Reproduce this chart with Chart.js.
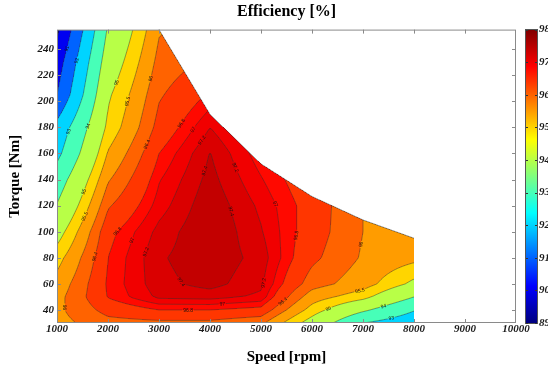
<!DOCTYPE html>
<html>
<head>
<meta charset="utf-8">
<title>Efficiency map</title>
<script src="https://cdn.jsdelivr.net/npm/chart.js@4.4.0/dist/chart.umd.min.js"></script>
<style>
  html, body { margin: 0; padding: 0; background: #fff; }
</style>
</head>
<body>
<canvas id="map" width="548" height="368"></canvas>
<script>
// measured grid: one efficiency column per speed, rows follow `torques`
const speeds = [1000, 2000, 3000, 4000, 5000, 6000, 7000, 8000];
const torques = [30, 40, 50, 60, 80, 100, 120, 140, 160, 180, 205, 230, 255];
const maxTorque = [255, 255, 255, 190, 152, 127, 109, 95];

const eff1000 = [95.85, 95.9, 95.85, 95.7, 95.3, 94.7, 94.05, 93.5, 92.75, 92.3, 91.0, 90.5, 89.8];
const eff2000 = [96.25, 96.55, 96.82, 96.85, 96.8, 96.7, 96.35, 95.95, 95.55, 95.15, 94.9, 94.5, 94.1];
const eff3000 = [96.3, 96.8, 97.25, 97.33, 97.37, 97.27, 97.1, 96.98, 96.8, 96.55, 96.35, 96.15, 95.95];
const eff4000 = [96.3, 96.8, 97.28, 97.48, 97.55, 97.6, 97.56, 97.48, 97.41, 97.2, 96.85, 96.5, 96.3];
const eff5000 = [96.1, 96.7, 97.15, 97.25, 97.32, 97.22, 97.15, 97.02, 96.88, 96.75, 96.6, null, null];
const eff6000 = [94.7, 95.3, 95.75, 96.2, 96.5, 96.62, 96.65, 96.55, 96.45, null, null, null, null];
const eff7000 = [93.0, 94.15, 95.2, 95.75, 95.95, 96.0, 96.0, 95.95, null, null, null, null, null];
const eff8000 = [92.4, 93.05, 94.0, 94.85, 95.65, 95.85, 95.8, null, null, null, null, null, null];

const levels = [90, 91, 92, 93, 94, 95, 95.5, 96, 96.4, 96.8, 97, 97.2, 97.4];
const xTicks = [1000, 2000, 3000, 4000, 5000, 6000, 7000, 8000, 9000, 10000];
const yTicks = [40, 60, 80, 100, 120, 140, 160, 180, 200, 220, 240];
const barTicks = [89, 90, 91, 92, 93, 94, 95, 96, 97, 98];

// contour labels: [level, speed, torque] (snapped onto the line when drawn)
const contourLabels = [
  [90, 1080, 247], [91, 1240, 240], [92, 1410, 231], [93, 1290, 176], [94, 1690, 180],
  [95, 2060, 216], [95.5, 2180, 202], [96, 2770, 218], [96.4, 2650, 169],
  [96.8, 3400, 184], [97, 3570, 181], [97.2, 3770, 172], [97.4, 3790, 148],
  [97.2, 4540, 150], [97.4, 4540, 117], [97, 5260, 121], [96.8, 5700, 97],
  [96, 6870, 91], [95.5, 6950, 53], [95, 6330, 40], [94, 7400, 43], [93, 7550, 35],
  [96.4, 5420, 47], [97, 4240, 46], [96.8, 3570, 40], [97.4, 3450, 62], [97.2, 5010, 61],
  [96.4, 1730, 81], [96.8, 2200, 100], [97, 2420, 94], [97.2, 2710, 85],
  [95, 1500, 131], [95.5, 1470, 113], [96, 1170, 42]
];

const effColumns = [eff1000, eff2000, eff3000, eff4000, eff5000, eff6000, eff7000, eff8000];
const serif = '"Liberation Serif", "Times New Roman", serif';

function cellIndex(arr, v) {
  let i = 0;
  while (i < arr.length - 2 && v > arr[i + 1]) i++;
  return i;
}

function torqueLimit(n) {
  const i = cellIndex(speeds, n);
  const s = (n - speeds[i]) / (speeds[i + 1] - speeds[i]);
  return maxTorque[i] + s * (maxTorque[i + 1] - maxTorque[i]);
}

function inside(n, t) {
  return n >= speeds[0] && n <= speeds[speeds.length - 1] && t >= torques[0] && t <= torqueLimit(n);
}

// bilinear value inside a grid cell, missing corners are left out
function effAt(n, t) {
  const i = cellIndex(speeds, n), j = cellIndex(torques, t);
  const s = Math.min(Math.max((n - speeds[i]) / (speeds[i + 1] - speeds[i]), 0), 1);
  const u = Math.min(Math.max((t - torques[j]) / (torques[j + 1] - torques[j]), 0), 1);
  const c = [
    [effColumns[i][j], (1 - s) * (1 - u)], [effColumns[i + 1][j], s * (1 - u)],
    [effColumns[i][j + 1], (1 - s) * u], [effColumns[i + 1][j + 1], s * u]
  ];
  let sum = 0, w = 0;
  for (const [v, k] of c) if (v != null) { sum += v * k; w += k; }
  return w > 1e-9 ? sum / w : NaN;
}

function jet(t) {
  const cl = v => Math.min(Math.max(v, 0), 1);
  return [cl(1.5 - Math.abs(4 * t - 3)) * 255, cl(1.5 - Math.abs(4 * t - 2)) * 255, cl(1.5 - Math.abs(4 * t - 1)) * 255];
}
const cMin = barTicks[0], cMax = barTicks[barTicks.length - 1];
const bandColors = [jet(0)].concat(levels.map(l => jet((l - cMin) / (cMax - cMin))));
function bandColor(v) {
  let k = 0;
  while (k < levels.length && v >= levels[k]) k++;
  return bandColors[k];
}

const effMapPlugin = {
  id: 'effMap',
  beforeDatasetsDraw(chart) {
    const { ctx, chartArea: a, scales: { x, y } } = chart;
    const L = Math.round(a.left), T = Math.round(a.top);
    const W = Math.round(a.right) - L, H = Math.round(a.bottom) - T;

    // filled bands
    const img = ctx.createImageData(W, H);
    for (let r = 0; r < H; r++) {
      const t = y.getValueForPixel(T + r + 0.5);
      for (let c = 0; c < W; c++) {
        const n = x.getValueForPixel(L + c + 0.5);
        let col = [255, 255, 255];
        if (inside(n, t)) {
          const v = effAt(n, t);
          if (!isNaN(v)) col = bandColor(v);
        }
        const k = (r * W + c) * 4;
        img.data[k] = col[0]; img.data[k + 1] = col[1]; img.data[k + 2] = col[2]; img.data[k + 3] = 255;
      }
    }
    ctx.putImageData(img, L, T);

    const F = (px, py) => effAt(x.getValueForPixel(px), y.getValueForPixel(py));

    // domain outline in pixels
    const outline = [[speeds[0], torques[0]]];
    speeds.forEach((n, i) => outline.push([n, maxTorque[i]]));
    outline.push([speeds[speeds.length - 1], torques[0]]);
    const outlinePx = outline.map(([n, t]) => [x.getPixelForValue(n), y.getPixelForValue(t)]);

    // place labels on their contour
    ctx.font = '5px "Liberation Sans", Arial, sans-serif';
    const placed = [];
    for (const [lev, n0, t0] of contourLabels) {
      let px = x.getPixelForValue(n0), py = y.getPixelForValue(t0);
      const ox = px, oy = py;
      let gx = 0, gy = 0;
      for (let it = 0; it < 15; it++) {
        const f = F(px, py);
        gx = (F(px + 1, py) - F(px - 1, py)) / 2;
        gy = (F(px, py + 1) - F(px, py - 1)) / 2;
        const g2 = gx * gx + gy * gy;
        if (!(g2 > 1e-10) || isNaN(f)) break;
        let dx = (lev - f) / g2 * gx, dy = (lev - f) / g2 * gy;
        const len = Math.hypot(dx, dy);
        if (len > 5) { dx *= 5 / len; dy *= 5 / len; }
        px += dx; py += dy;
      }
      const fv = F(px, py);
      if (isNaN(fv) || Math.abs(fv - lev) > 0.01) continue;
      if (Math.hypot(px - ox, py - oy) > 30) continue;
      if (!inside(x.getValueForPixel(px), y.getValueForPixel(py))) continue;
      let ang = Math.atan2(-gx, gy);
      if (ang > Math.PI / 2) ang -= Math.PI;
      if (ang < -Math.PI / 2) ang += Math.PI;
      const text = String(lev);
      placed.push({ px, py, ang, text, hw: ctx.measureText(text).width / 2 + 1, hh: 2.6 });
    }

    // contour lines, with gaps where labels sit
    ctx.save();
    ctx.beginPath();
    outlinePx.forEach(([px, py], i) => i ? ctx.lineTo(px, py) : ctx.moveTo(px, py));
    ctx.closePath();
    for (const p of placed) {
      const cs = Math.cos(p.ang), sn = Math.sin(p.ang);
      const pts = [[-p.hw, -p.hh], [p.hw, -p.hh], [p.hw, p.hh], [-p.hw, p.hh]]
        .map(([u, v]) => [p.px + u * cs - v * sn, p.py + u * sn + v * cs]);
      pts.forEach(([qx, qy], i) => i ? ctx.lineTo(qx, qy) : ctx.moveTo(qx, qy));
      ctx.closePath();
    }
    ctx.clip('evenodd');

    const step = 2;
    const nc = Math.ceil(W / step) + 1, nr = Math.ceil(H / step) + 1;
    const gxs = [], gys = [], g = [];
    for (let c = 0; c < nc; c++) gxs.push(Math.min(L + c * step, L + W));
    for (let r = 0; r < nr; r++) gys.push(Math.min(T + r * step, T + H));
    for (let r = 0; r < nr; r++) {
      const row = [];
      for (let c = 0; c < nc; c++) row.push(F(gxs[c], gys[r]));
      g.push(row);
    }
    ctx.strokeStyle = 'rgba(50,50,50,0.75)';
    ctx.lineWidth = 0.6;
    for (const lev of levels) {
      ctx.beginPath();
      for (let r = 0; r < nr - 1; r++) {
        for (let c = 0; c < nc - 1; c++) {
          const v = [g[r][c], g[r][c + 1], g[r + 1][c + 1], g[r + 1][c]];
          if (v.some(isNaN)) continue;
          const P = [[gxs[c], gys[r]], [gxs[c + 1], gys[r]], [gxs[c + 1], gys[r + 1]], [gxs[c], gys[r + 1]]];
          const hits = [];
          for (let e = 0; e < 4; e++) {
            const a1 = v[e], a2 = v[(e + 1) % 4];
            if ((a1 >= lev) !== (a2 >= lev)) {
              const k = (lev - a1) / (a2 - a1);
              const p1 = P[e], p2 = P[(e + 1) % 4];
              hits.push([p1[0] + k * (p2[0] - p1[0]), p1[1] + k * (p2[1] - p1[1])]);
            }
          }
          for (let h = 0; h + 1 < hits.length; h += 2) {
            ctx.moveTo(hits[h][0], hits[h][1]);
            ctx.lineTo(hits[h + 1][0], hits[h + 1][1]);
          }
        }
      }
      ctx.stroke();
    }
    ctx.restore();

    // label text
    ctx.save();
    ctx.fillStyle = '#111';
    ctx.textAlign = 'center';
    ctx.textBaseline = 'middle';
    for (const p of placed) {
      ctx.save();
      ctx.translate(p.px, p.py);
      ctx.rotate(p.ang);
      ctx.fillText(p.text, 0, 0.3);
      ctx.restore();
    }
    ctx.restore();

    // torque limit edge
    ctx.save();
    ctx.strokeStyle = 'rgba(60,60,60,0.8)';
    ctx.lineWidth = 0.7;
    ctx.beginPath();
    let started = false;
    speeds.forEach((n, i) => {
      if (maxTorque[i] >= torques[torques.length - 1] && i < speeds.length - 1 && maxTorque[i + 1] >= torques[torques.length - 1]) return;
      const px = x.getPixelForValue(n), py = y.getPixelForValue(maxTorque[i]);
      if (!started) { ctx.moveTo(px, py); started = true; } else ctx.lineTo(px, py);
    });
    ctx.stroke();
    ctx.restore();
  },
  afterDraw(chart) {
    const { ctx, chartArea: a, scales: { x, y, cb } } = chart;
    ctx.save();
    // frame and inward ticks
    ctx.strokeStyle = '#8a8a8a';
    ctx.lineWidth = 1;
    ctx.strokeRect(a.left + 0.5, a.top + 0.5, a.right - a.left - 1, a.bottom - a.top - 1);
    ctx.beginPath();
    for (const v of xTicks) {
      const px = Math.round(x.getPixelForValue(v)) + 0.5;
      if (px < a.left + 2 || px > a.right - 2) continue;
      ctx.moveTo(px, a.bottom); ctx.lineTo(px, a.bottom - 4);
      ctx.moveTo(px, a.top); ctx.lineTo(px, a.top + 4);
    }
    for (const v of yTicks) {
      const py = Math.round(y.getPixelForValue(v)) + 0.5;
      ctx.moveTo(a.left, py); ctx.lineTo(a.left + 4, py);
      ctx.moveTo(a.right, py); ctx.lineTo(a.right - 4, py);
    }
    ctx.stroke();

    // colour bar
    const bx = cb.left + 10, bw = 11;
    const top = Math.round(cb.getPixelForValue(cMax)), bot = Math.round(cb.getPixelForValue(cMin));
    for (let py = top; py < bot; py++) {
      const c = jet((cb.getValueForPixel(py + 0.5) - cMin) / (cMax - cMin));
      ctx.fillStyle = `rgb(${c[0] | 0},${c[1] | 0},${c[2] | 0})`;
      ctx.fillRect(bx, py, bw, 1);
    }
    ctx.strokeStyle = '#555';
    ctx.strokeRect(bx - 0.5, top - 0.5, bw + 1, bot - top + 1);
    ctx.strokeStyle = '#333';
    ctx.beginPath();
    for (const v of barTicks) {
      const py = Math.round(cb.getPixelForValue(v)) + 0.5;
      ctx.moveTo(bx, py); ctx.lineTo(bx + 2, py);
      ctx.moveTo(bx + bw, py); ctx.lineTo(bx + bw - 2, py);
    }
    ctx.stroke();

    // title
    ctx.fillStyle = '#000';
    ctx.font = `bold 16px ${serif}`;
    ctx.textAlign = 'center';
    ctx.textBaseline = 'middle';
    ctx.fillText('Efficiency [%]', (a.left + a.right) / 2, 12);
    ctx.restore();
  }
};

const tickFont = { family: serif, size: 11, style: 'italic', weight: 'bold' };
const axisTitleFont = { family: serif, size: 15, weight: 'bold' };

new Chart(document.getElementById('map'), {
  type: 'scatter',
  data: { datasets: [] },
  options: {
    responsive: false,
    animation: false,
    events: [],
    layout: { padding: { top: 25, left: 0, right: 0, bottom: 0 } },
    plugins: { legend: { display: false }, tooltip: { enabled: false } },
    scales: {
      x: {
        type: 'linear', min: 1000, max: 10000,
        grid: { display: false, drawTicks: false }, border: { display: false },
        afterBuildTicks: s => { s.ticks = xTicks.map(v => ({ value: v })); },
        afterFit: s => { s.height = 45; },
        ticks: { padding: 0, color: '#1a1a1a', font: tickFont, maxRotation: 0, autoSkip: false, callback: v => String(v) },
        title: { display: true, text: 'Speed [rpm]', color: '#000', font: axisTitleFont, padding: { top: 0, bottom: 2 } }
      },
      y: {
        type: 'linear', position: 'left', min: 30, max: 255,
        grid: { display: false, drawTicks: false }, border: { display: false },
        afterBuildTicks: s => { s.ticks = yTicks.map(v => ({ value: v })); },
        afterFit: s => { s.width = 57; },
        ticks: { padding: 3, color: '#1a1a1a', font: tickFont, autoSkip: false, callback: v => String(v) },
        title: { display: true, text: 'Torque [Nm]', color: '#000', font: axisTitleFont, padding: { top: 6, bottom: 0 } }
      },
      cb: {
        type: 'linear', axis: 'y', position: 'right', min: 89, max: 98,
        grid: { display: false, drawTicks: false }, border: { display: false },
        afterBuildTicks: s => { s.ticks = barTicks.map(v => ({ value: v })); },
        afterFit: s => { s.width = 32; },
        ticks: { padding: 23, color: '#1a1a1a', font: tickFont, autoSkip: false, callback: v => String(v) }
      }
    }
  },
  plugins: [effMapPlugin]
});
</script>
</body>
</html>
